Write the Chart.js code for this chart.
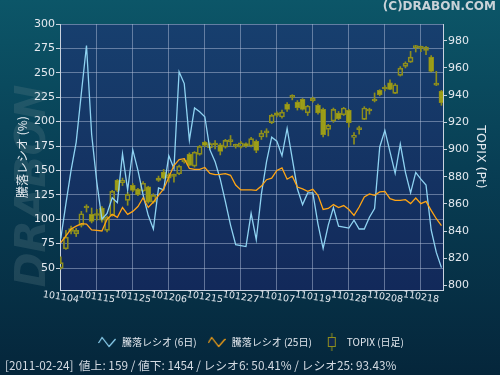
<!DOCTYPE html>
<html>
<head>
<meta charset="utf-8">
<script src="https://cdn.jsdelivr.net/npm/chart.js@4.4.0/dist/chart.umd.min.js"></script>
<style>
  html, body { margin: 0; padding: 0; background: #062a40; }
  #wrap { width: 500px; height: 375px; }
</style>
</head>
<body>
<div id="wrap"><canvas id="ratio-chart" width="500" height="375"></canvas></div>
<script>
/**
 * 騰落レシオ / TOPIX chart
 */

const dates = [
  '101104','101105','101108','101109','101110','101111','101112','101115','101116','101117',
  '101118','101119','101122','101124','101125','101126','101129','101130','101201','101202',
  '101203','101206','101207','101208','101209','101210','101213','101214','101215','101216',
  '101217','101220','101221','101222','101224','101227','101228','101229','101230','110104',
  '110105','110106','110107','110111','110112','110113','110114','110117','110118','110119',
  '110120','110121','110124','110125','110126','110127','110128','110131','110201','110202',
  '110203','110204','110207','110208','110209','110210','110214','110215','110216','110217',
  '110218','110221','110222','110223','110224'
];

const ratio6 = [
  80, 116, 150, 179, 229, 278, 187, 138, 100, 106,
  122, 117, 167, 130, 171, 150, 125, 104, 90, 132,
  130, 165, 152, 251, 239, 181, 214, 210, 205, 171,
  159, 141, 118, 94, 74, 73, 72, 106, 79, 126,
  159, 184, 180, 165, 193, 162, 131, 115, 127, 127,
  95, 70, 94, 112, 93, 92, 91, 99, 90, 90,
  102, 111, 174, 191, 169, 147, 177, 148, 127, 148,
  141, 135, 89, 66, 50.41
];

const ratio25 = [
  76, 83, 90, 93, 95.5, 95, 89, 88.5, 88, 100,
  105, 102, 112, 105, 108, 113, 122, 112, 117.6, 124.5,
  131, 143, 155, 161, 162, 152, 151, 151, 153, 147,
  145.6, 146, 146.7, 145, 135, 130, 130, 130, 129.6, 134,
  140.5, 142, 150, 152.5, 141, 144, 133, 131, 128.6, 130.6,
  124.5, 110, 111, 115, 112, 114, 110, 104, 112.5, 122.7,
  126, 124.5, 128, 128.5, 121, 119.3, 119.3, 120, 116, 121.7,
  116, 118.3, 109, 100.5, 93.43
];

const topixOpen = [
  812.8, 827, 839.8, 838, 844.2, 857, 852.3, 851.5, 857, 840.5,
  851.6, 877.3, 875.6, 862.6, 873.6, 870.7, 869.5, 872.5, 861.3, 879,
  883.4, 879, 880.3, 882.2, 890.8, 896.4, 887.8, 896.4, 905.5, 901.3,
  903.3, 903.5, 901.8, 905.8, 902.3, 901.8, 904.3, 902.5, 906, 909.2,
  912.2, 919.7, 925, 923.9, 933.4, 938.4, 934.9, 936.9, 927, 935.9,
  932.5, 929.5, 914.8, 921, 926.8, 925.6, 928.8, 908.9, 914.6, 922.2,
  928.3, 935.7, 943.5, 944.5, 949.1, 941.3, 954.5, 961.1, 964.3, 974.9,
  974.4, 972.9, 968, 947.4, 942.7
];

const topixHigh = [
  821, 840.5, 843.7, 842, 854.5, 859.4, 857, 856, 858, 851,
  870, 878, 879, 868.5, 875, 871.5, 876.5, 873, 867.5, 880.5,
  885.4, 882.5, 882, 888.5, 893.5, 897.5, 898.5, 903, 906, 905,
  906.6, 904.5, 907.5, 910.3, 904, 906, 905, 909, 907, 914,
  915.3, 926, 927.8, 929, 934.5, 940.3, 936, 937.5, 932.5, 938.5,
  933.5, 930.5, 918.5, 930.5, 928, 931, 929.5, 912.4, 917.2, 931.5,
  930.4, 941.6, 944, 947, 951.3, 948.5, 961, 964.5, 972.2, 976.6,
  976, 975.8, 969, 957.5, 943.5
];

const topixLow = [
  812, 826.5, 838, 836, 843, 854, 846, 848, 846.5, 839.5,
  851, 869, 873.5, 859, 869, 866, 869, 860.5, 860.5, 876.5,
  878.5, 876, 876, 881.5, 890, 888, 887, 895.8, 902, 900,
  900.5, 896, 901, 903, 901, 901, 901.5, 902, 897.7, 907.4,
  909.2, 919, 924, 923, 928, 936.5, 929, 929, 925, 934.8,
  926, 909.2, 910, 920, 922, 925, 916.5, 904, 911.3, 922,
  926, 935, 939.5, 943, 944, 941, 954, 960, 964, 971.7,
  972, 969.8, 957, 947, 932.5
];

const topixClose = [
  816.8, 835.6, 841.8, 840.5, 852.8, 857.4, 847.2, 852, 848, 850.3,
  869.2, 870, 877.3, 867, 870, 866.8, 875.2, 861.2, 866.3, 877.3,
  879, 881.5, 880.7, 887.8, 892, 888.3, 898, 902.3, 903, 904.3,
  903.7, 898.6, 906.7, 906.2, 902.7, 905, 902.5, 908, 899.4, 912.1,
  912.6, 925.1, 927, 927.5, 929.5, 938.8, 930.7, 929.5, 932, 937.8,
  927, 910.9, 917.7, 929.5, 922.6, 930.5, 919.7, 910.4, 915, 930.5,
  928.7, 936.1, 940.3, 944.9, 944.2, 947.6, 959.9, 963.6, 968, 975.3,
  974.8, 975.3, 957.5, 947.8, 934.4
];

const dateTicks = [0, 7, 14, 21, 28, 35, 42, 49, 56, 63, 70];
const leftTicks = [50, 75, 100, 125, 150, 175, 200, 225, 250, 275, 300];
const rightTicks = [800, 820, 840, 860, 880, 900, 920, 940, 960, 980];

const advances = 159;
const declines = 1454;

const COLORS = {
  r6: '#8fd3f2',
  r25: '#ffa514',
  candleFill: 'rgba(165,165,20,0.92)',
  candleLine: '#8e8e1c',
  grid: 'rgba(175,190,215,0.5)',
  axis: '#c9d2de',
  text: '#e4e9ef'
};

const CJK = "'Noto Sans CJK JP', sans-serif";

function makeIcon(w, h, draw) {
  const c = document.createElement('canvas');
  c.width = w;
  c.height = h;
  draw(c.getContext('2d'));
  return c;
}

function zigzagIcon(color) {
  return makeIcon(18, 12, ctx => {
    ctx.strokeStyle = color;
    ctx.lineWidth = 1.2;
    ctx.beginPath();
    ctx.moveTo(0.5, 7);
    ctx.lineTo(4, 1.5);
    ctx.lineTo(11, 10.5);
    ctx.lineTo(17.5, 3);
    ctx.stroke();
  });
}

const candleIcon = makeIcon(10, 18, ctx => {
  ctx.strokeStyle = COLORS.candleLine;
  ctx.fillStyle = '#10284f';
  ctx.lineWidth = 1;
  ctx.beginPath();
  ctx.moveTo(5, 0);
  ctx.lineTo(5, 18);
  ctx.stroke();
  ctx.fillRect(1.5, 4.5, 7, 9);
  ctx.strokeRect(1.5, 4.5, 7, 9);
});

const backdrop = {
  id: 'backdrop',
  beforeDraw(chart) {
    const { ctx, chartArea: a, width, height } = chart;
    ctx.save();
    let g = ctx.createLinearGradient(0, 0, 0, height);
    g.addColorStop(0, '#0c5668');
    g.addColorStop(0.45, '#083e54');
    g.addColorStop(1, '#05263b');
    ctx.fillStyle = g;
    ctx.fillRect(0, 0, width, height);

    ctx.translate(34, 186);
    ctx.rotate(-Math.PI / 2);
    ctx.font = "italic bold 42px 'DejaVu Sans'";
    ctx.fillStyle = 'rgba(100,130,140,0.26)';
    ctx.textAlign = 'center';
    ctx.textBaseline = 'middle';
    ctx.fillText('DRABON', 0, 0);
    ctx.setTransform(1, 0, 0, 1, 0, 0);

    g = ctx.createLinearGradient(0, a.top, 0, a.bottom);
    g.addColorStop(0, '#173f6e');
    g.addColorStop(1, '#12295a');
    ctx.fillStyle = g;
    ctx.fillRect(a.left, a.top, a.right - a.left, a.bottom - a.top);
    ctx.restore();
  }
};

const idx = dates.map((_, i) => i);

const bodies = idx.map(i => ({ x: i, y: [topixOpen[i], topixClose[i]] }));
const wicks = idx.flatMap(i => [
  { x: i, y: [Math.max(topixOpen[i], topixClose[i]), topixHigh[i]] },
  { x: i, y: [topixLow[i], Math.min(topixOpen[i], topixClose[i])] }
]);

const footer = `[2011-02-24]  値上: ${advances} / 値下: ${declines} / レシオ6: ${ratio6[ratio6.length - 1].toFixed(2)}% / レシオ25: ${ratio25[ratio25.length - 1].toFixed(2)}%`;

Chart.defaults.font.family = "'DejaVu Sans', sans-serif";
Chart.defaults.color = COLORS.text;

new Chart(document.getElementById('ratio-chart'), {
  type: 'line',
  data: {
    datasets: [
      {
        label: '騰落レシオ (6日)',
        data: idx.map(i => ({ x: i, y: ratio6[i] })),
        borderColor: COLORS.r6,
        borderWidth: 1.3,
        pointRadius: 0,
        tension: 0,
        yAxisID: 'y',
        order: 1
      },
      {
        label: '騰落レシオ (25日)',
        data: idx.map(i => ({ x: i, y: ratio25[i] })),
        borderColor: COLORS.r25,
        borderWidth: 1.3,
        pointRadius: 0,
        tension: 0,
        yAxisID: 'y',
        order: 0
      },
      {
        type: 'bar',
        label: 'wick',
        data: wicks,
        backgroundColor: COLORS.candleLine,
        barThickness: 1,
        grouped: false,
        yAxisID: 'y1',
        order: 3
      },
      {
        type: 'bar',
        label: 'TOPIX (日足)',
        data: bodies,
        backgroundColor: idx.map(i => topixClose[i] < topixOpen[i] ? COLORS.candleFill : 'rgba(0,0,0,0)'),
        borderColor: COLORS.candleLine,
        borderWidth: 1,
        borderSkipped: false,
        barThickness: 5,
        minBarLength: 2,
        grouped: false,
        yAxisID: 'y1',
        order: 2
      }
    ]
  },
  options: {
    responsive: false,
    animation: false,
    events: [],
    layout: { padding: { left: 5, right: 4, top: 0, bottom: 0 } },
    scales: {
      x: {
        type: 'linear',
        min: -0.15,
        max: 74.3,
        offset: false,
        afterBuildTicks: scale => { scale.ticks = dateTicks.map(v => ({ value: v })); },
        afterFit: scale => { scale.height = 37; },
        ticks: {
          autoSkip: false,
          minRotation: -9,
          maxRotation: -9,
          labelOffset: 18,
          padding: 4.5,
          color: COLORS.text,
          font: { size: 9.5 },
          callback: v => dates[v]
        },
        grid: {
          offset: false,
          drawTicks: false,
          color: ctx => (ctx.tick && ctx.tick.value === 0) ? 'rgba(0,0,0,0)' : COLORS.grid
        },
        border: { color: COLORS.axis }
      },
      y: {
        position: 'left',
        min: 27.5,
        max: 300,
        afterBuildTicks: scale => { scale.ticks = leftTicks.map(v => ({ value: v })); },
        afterFit: scale => { scale.width = 55; },
        ticks: { padding: 1, color: COLORS.text, font: { size: 11 } },
        grid: { color: COLORS.grid, tickLength: 4, tickColor: COLORS.axis },
        border: { color: COLORS.axis },
        title: {
          display: true,
          text: '騰落レシオ (%)',
          color: COLORS.text,
          font: { family: CJK, size: 12 },
          padding: { top: 10, bottom: 0 }
        }
      },
      y1: {
        position: 'right',
        min: 796.7,
        max: 992.3,
        afterBuildTicks: scale => { scale.ticks = rightTicks.map(v => ({ value: v })); },
        afterFit: scale => { scale.width = 53; },
        ticks: { padding: 1, color: COLORS.text, font: { size: 11 } },
        grid: { drawOnChartArea: false, tickLength: 4, tickColor: COLORS.axis },
        border: { color: COLORS.axis },
        title: {
          display: true,
          text: 'TOPIX (Pt)',
          color: COLORS.text,
          font: { size: 12.5 },
          padding: { top: 8, bottom: 0 }
        }
      }
    },
    plugins: {
      tooltip: { enabled: false },
      title: {
        display: true,
        text: '(C)DRABON.COM',
        position: 'top',
        align: 'end',
        color: '#c9d2d8',
        font: { size: 12, weight: 'bold', lineHeight: 1 },
        padding: { top: 1, bottom: 11 }
      },
      subtitle: {
        display: true,
        text: footer,
        position: 'bottom',
        align: 'start',
        color: '#d3dae2',
        font: { family: CJK, size: 11.8, lineHeight: 1 },
        padding: { top: 3, bottom: 3.2 }
      },
      legend: {
        position: 'bottom',
        labels: {
          usePointStyle: true,
          pointStyleWidth: 20,
          padding: 10,
          color: COLORS.text,
          font: { family: CJK, size: 10 },
          generateLabels: () => [
            { text: '騰落レシオ (6日)', pointStyle: zigzagIcon(COLORS.r6), fontColor: COLORS.text, lineWidth: 0, hidden: false, datasetIndex: 0 },
            { text: '騰落レシオ (25日)', pointStyle: zigzagIcon(COLORS.r25), fontColor: COLORS.text, lineWidth: 0, hidden: false, datasetIndex: 1 },
            { text: 'TOPIX (日足)', pointStyle: candleIcon, fontColor: COLORS.text, lineWidth: 0, hidden: false, datasetIndex: 3 }
          ]
        }
      }
    }
  },
  plugins: [backdrop]
});
</script>
</body>
</html>
